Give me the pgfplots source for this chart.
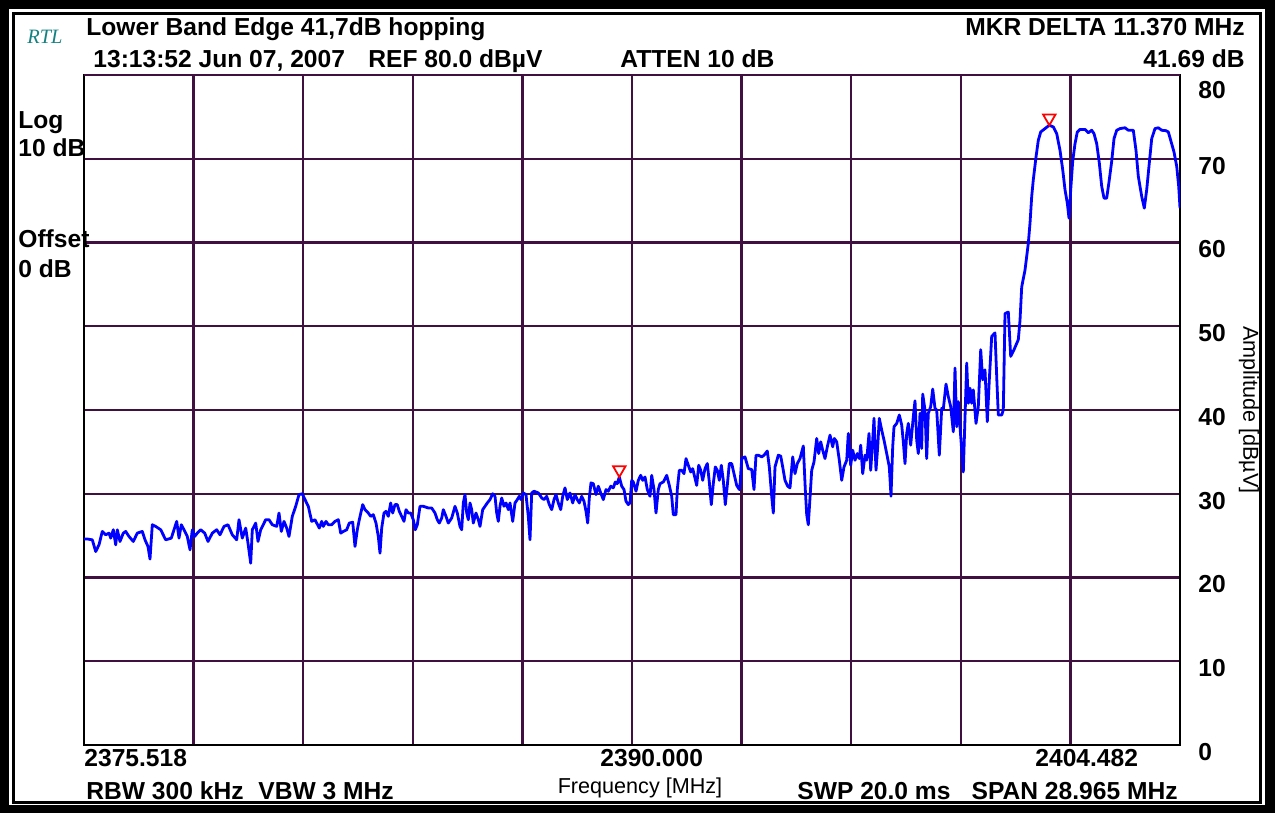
\documentclass[border=0pt]{standalone}
\usepackage{pgfplots}
\pgfplotsset{compat=1.18}
\usepackage{pgfplotstable}
\usepackage{fontspec}
\setmainfont{Liberation Sans}
\newfontfamily\rtlfont{Liberation Serif}

\definecolor{gridpurple}{RGB}{64,16,64}
\definecolor{rtlteal}{RGB}{20,130,130}
\newcommand\hdr{\bfseries\fontsize{12.3}{14}\selectfont}

% trace: p = position along the sweep (screen units, 0..1096), db = amplitude in dBuV
\pgfplotstableread{
p db
0 24.6
3.3 24.6
8.3 24.5
11.7 23.1
15 23.9
18.3 25.5
21.7 25.1
25 25.3
26.7 24.7
29.3 25.7
31.7 23.9
33.3 25.7
36 24.3
39.3 25.3
41.7 25.5
45 24.9
49.3 24.3
53.3 25.3
58.3 25.5
61 24.5
64 23.7
66 22.2
68.3 26.3
71.7 26.1
76.7 25.7
81.7 24.5
87.3 24.7
90 25.7
92.7 26.7
95 24.7
97.3 26.3
100 25.7
103.3 24.9
106 23.3
108.3 25.7
110.7 24.9
113.3 25.3
116.7 25.7
120.7 25.3
124 24.3
128.3 25.3
132.7 25.7
136 25.1
140 26.1
144 26.3
148.3 25.1
152.7 24.5
155 26.9
158.3 24.7
161.7 25.9
164 24.1
166.7 21.7
168.3 25.7
171.7 26.5
174 24.3
176.7 25.7
181.7 26.9
185 26.9
188.3 26.3
192.7 26.1
195 27.7
197.3 25.5
200 26.7
202.7 25.9
205 24.9
208.3 27.3
211.7 28.5
215 29.9
218.3 30.0
221 29.3
224.3 28.5
227.7 26.7
231 26.9
232.7 26.5
235.3 25.9
237.7 26.7
239.3 26.1
242 26.7
244.3 26.3
247.7 26.3
251 26.7
254.3 26.9
256.7 25.3
259.3 25.5
262.7 25.7
265.3 26.5
268.7 26.6
271 23.7
273.3 25.7
275.3 26.9
278.7 28.7
281 28.1
284.3 27.7
286.7 27.3
289.3 27.5
292 26.5
294.3 24.9
296 22.9
297.7 25.9
300 27.7
302 27.9
304.3 27.3
306.7 28.9
308.7 27.7
311 28.7
313.3 28.7
315.3 27.9
317.7 27.3
320 26.7
322 28.1
324.3 27.7
326.7 27.7
329.3 26.9
331.3 25.7
333.3 26.3
336 28.5
339.3 28.5
344.3 28.3
347.7 28.3
351 27.7
353.3 26.9
355.3 26.5
357.7 27.1
359.3 28.1
362 27.3
364.3 26.5
367.7 27.1
371 28.5
373.3 27.7
376 26.1
377.7 25.7
379.3 28.9
381 29.9
382.7 27.7
384.3 26.9
386 28.9
387.7 28.1
389.3 26.5
392 27.7
394.3 26.9
396 26.1
398.7 28.1
401 28.5
403.3 28.9
406 29.3
408.7 30.0
411 29.7
412.7 27.7
414.3 26.7
416 28.5
417.7 29.5
420 28.5
422 28.9
424.3 28.1
426 28.9
428.7 26.7
431 28.9
433.3 29.3
435.3 29.7
437 29.3
439.3 30.1
442 29.9
444.3 27.3
446 24.5
447.7 30.1
450 30.3
454.3 30.1
457.7 29.5
460 29.3
462.7 29.7
465.3 28.7
467.7 28.1
470 29.3
472 29.9
474.3 28.9
476.7 28.1
478.7 29.7
481 30.7
483.3 29.3
486 30.1
488.7 28.9
491 29.9
493.3 29.3
495.3 28.9
497.7 29.7
500 29.1
502 27.9
503.7 26.5
505.3 29.5
507 31.3
509.3 31.2
512 29.9
514.3 30.9
516.7 30.1
519.3 29.3
522 30.5
524.3 30.3
526.7 30.9
529.3 30.7
531.3 31.4
533.3 31.2
535.3 32.0
537.7 30.9
540 30.5
542 29.1
544.3 28.7
546 28.9
547.7 31.6
549.3 31.4
552 30.3
554.3 31.6
556.7 32.2
558.7 31.6
561 32.0
563.3 30.5
566 29.7
567.7 32.2
570 30.5
572 27.7
574.3 30.5
576 31.2
579.3 31.4
582.7 32.2
585.3 31.0
587.7 29.7
589.3 27.5
592 27.5
593.3 30.5
595.3 32.8
597.7 32.8
600 32.4
602 34.2
604.3 33.4
606.7 32.6
608.7 33.0
610.7 32.0
612.7 31.0
614.7 33.4
616.7 32.8
618.7 31.6
621 33.0
623.3 33.6
625.3 31.4
627.3 28.7
629.3 31.2
631.3 33.2
633.3 32.8
635.3 31.6
637.3 33.4
639.3 31.6
641.3 28.7
643.3 31.0
645.3 33.6
647.7 33.6
650 32.4
652.7 31.0
655.3 30.5
656 31.0
657.7 34.2
661 34.4
664.3 33.0
667.7 32.9
670 30.5
672 34.6
674.3 34.6
677.7 34.4
680 34.6
683.3 35.1
685.3 33.2
687.7 29.7
689.3 27.7
691 33.2
694.3 34.6
696.7 34.5
698.7 33.2
701 31.6
703.7 30.9
706 30.7
708.7 34.4
711 32.4
713.3 33.6
716 34.2
719.3 35.7
721.3 30.5
722.7 27.5
724.3 26.3
726 29.5
727.7 32.8
730 33.8
732.7 36.6
734.7 34.8
736.7 36.2
738.7 35.2
741 34.2
743.3 35.6
746 37.0
748.7 35.6
750.3 36.6
752.7 36.2
755.3 34.0
757.7 31.6
760 33.2
762.7 34.0
764.3 37.2
766.7 33.4
768.7 35.2
771 34.0
773.3 34.8
775.3 34.2
776.7 35.8
778.7 32.4
781 34.6
782.7 34.0
785 37.2
786.7 32.8
788.7 36.4
790 39.0
792 32.8
793.7 35.6
795.3 39.0
797.7 37.6
800 36.4
802.7 34.8
805.3 33.2
807 29.7
808.7 35.6
810 38.0
812.7 38.4
815.3 39.4
817.7 38.2
819.3 36.2
821 33.6
822.7 37.2
824.3 38.4
826.7 35.8
829.3 39.2
831 41.1
832.7 36.4
834.3 34.8
836 39.6
837.7 35.4
838.7 41.9
841 40.0
842.7 34.2
844.3 39.6
846.7 40.4
848.7 42.5
851 40.2
852.7 40.0
855.3 34.6
857.7 40.2
859.3 40.1
862 43.1
864.3 41.6
866.7 40.4
869.3 37.4
871 45.0
872.7 38.0
874.3 41.0
876 38.0
879.3 32.6
882.7 45.6
884.3 40.8
886 42.6
887.7 40.8
889.3 42.4
892 38.4
894.3 40.4
896.7 47.2
898.7 43.6
901 44.8
903.3 38.6
905.3 43.6
907.7 48.8
911 49.2
912.7 44.0
914.3 39.4
917.7 39.4
919.3 40.0
921 51.5
924.3 51.7
926.7 46.4
930 47.2
934.3 48.4
936 50.7
937.7 54.7
941 56.7
944.3 59.9
946 62.3
947.7 65.5
949.3 67.5
952 70.2
954.3 72.2
956.7 73.2
961 73.6
965.3 74.0
969.3 73.8
972.7 73.0
976 71.0
978.7 68.7
981 66.3
983.3 64.7
985 62.9
986.7 66.3
988.7 69.7
991 71.8
993.3 73.2
996 73.5
1001 73.5
1004.3 73.1
1007.7 73.4
1010 73.0
1012.7 71.8
1015.3 69.5
1017.7 66.7
1020 65.3
1022.7 65.3
1025.3 67.5
1027.7 69.7
1030 72.4
1032.7 73.4
1036 73.6
1041 73.7
1044.3 73.4
1049.3 73.4
1052 71.0
1054.3 67.9
1057.7 65.5
1060.3 64.1
1062.7 66.3
1065.3 69.5
1067.7 72.4
1071 73.6
1074.3 73.7
1077.7 73.4
1082 73.35
1084.3 73.2
1086.7 72.2
1090 70.8
1092.7 69.1
1094.7 66.7
1096 64.1
}\trace

\begin{document}
\begin{tikzpicture}
% screen frame, in pixel units (y downwards)
\begin{scope}[x=0.5pt,y=-0.5pt,shift={(0pt,406.5pt)}]
  \fill[black] (0,0) rectangle (1275,813);
  \fill[white] (9,9) rectangle (1265,805);
  \draw[line width=1.2pt] (13.5,13.5) rectangle (1260.5,802.5);
\end{scope}

\begin{axis}[
  at={(42pt,34pt)}, anchor=south west,
  width=548pt, height=335pt, scale only axis,
  xmin=0, xmax=1096, ymin=0, ymax=80,
  xtick={0,109.6,219.2,328.8,438.4,548,657.6,767.2,876.8,986.4,1096},
  xticklabels={},
  ytick={0,10,...,70},
  extra y ticks={80},
  extra y tick style={yticklabel style={yshift=-4pt}},
  yticklabel pos=right,
  /pgf/number format/assume math mode=true,
  yticklabel style={font=\hdr, anchor=west, inner sep=0pt, xshift=9pt, yshift=-3.5pt},
  major tick length=0pt,
  grid=major,
  major grid style={draw=gridpurple, line width=1.2pt},
  axis line style={black, line width=1pt},
]
\addplot[blue, line width=1.4pt, line join=round] table[x=p, y=db] {\trace};
% delta markers
\addplot[only marks, red, mark=triangle, mark size=3.6pt,
  mark options={yshift=3.6pt, rotate=180, line width=0.9pt, fill=none}]
  coordinates {(535.3,32.0) (965.3,74.0)};
\end{axis}

% annotations, in pixel units (y downwards)
\begin{scope}[x=0.5pt,y=-0.5pt,shift={(0pt,406.5pt)}]
  \node[anchor=base west, inner sep=0pt, text=rtlteal] at (27,44) {\rtlfont\itshape\fontsize{10.2}{12}\selectfont RTL};
  \node[anchor=base west, inner sep=0pt] at (86,36) {\hdr Lower Band Edge 41,7dB hopping};
  \node[anchor=base west, inner sep=0pt] at (93,68) {\hdr 13:13:52 Jun 07, 2007};
  \node[anchor=base west, inner sep=0pt] at (368,68) {\hdr REF 80.0 dBµV};
  \node[anchor=base west, inner sep=0pt] at (620,68) {\hdr ATTEN 10 dB};
  \node[anchor=base east, inner sep=0pt] at (1245,36) {\hdr MKR DELTA 11.370 MHz};
  \node[anchor=base east, inner sep=0pt] at (1245,68) {\hdr 41.69 dB};
  \node[anchor=base west, inner sep=0pt] at (18,129) {\hdr Log};
  \node[anchor=base west, inner sep=0pt] at (18,157) {\hdr 10 dB};
  \node[anchor=base west, inner sep=0pt] at (18,248) {\hdr Offset};
  \node[anchor=base west, inner sep=0pt] at (18,278) {\hdr 0 dB};
  \node[anchor=base west, inner sep=0pt] at (84,767) {\hdr 2375.518};
  \node[anchor=base west, inner sep=0pt] at (600,767) {\hdr 2390.000};
  \node[anchor=base west, inner sep=0pt] at (1035,767) {\hdr 2404.482};
  \node[anchor=base, inner sep=0pt] at (640,794) {\fontsize{10.8}{12}\selectfont Frequency [MHz]};
  \node[anchor=base west, inner sep=0pt] at (86,800) {\hdr RBW 300 kHz};
  \node[anchor=base west, inner sep=0pt] at (258,800) {\hdr VBW 3 MHz};
  \node[anchor=base west, inner sep=0pt] at (797,800) {\hdr SWP 20.0 ms};
  \node[anchor=base east, inner sep=0pt] at (1178,800) {\hdr SPAN 28.965 MHz};
  \node[rotate=-90, inner sep=0pt] at (1249,410) {\fontsize{10.8}{12}\selectfont Amplitude [dBµV]};
\end{scope}
\end{tikzpicture}
\end{document}
